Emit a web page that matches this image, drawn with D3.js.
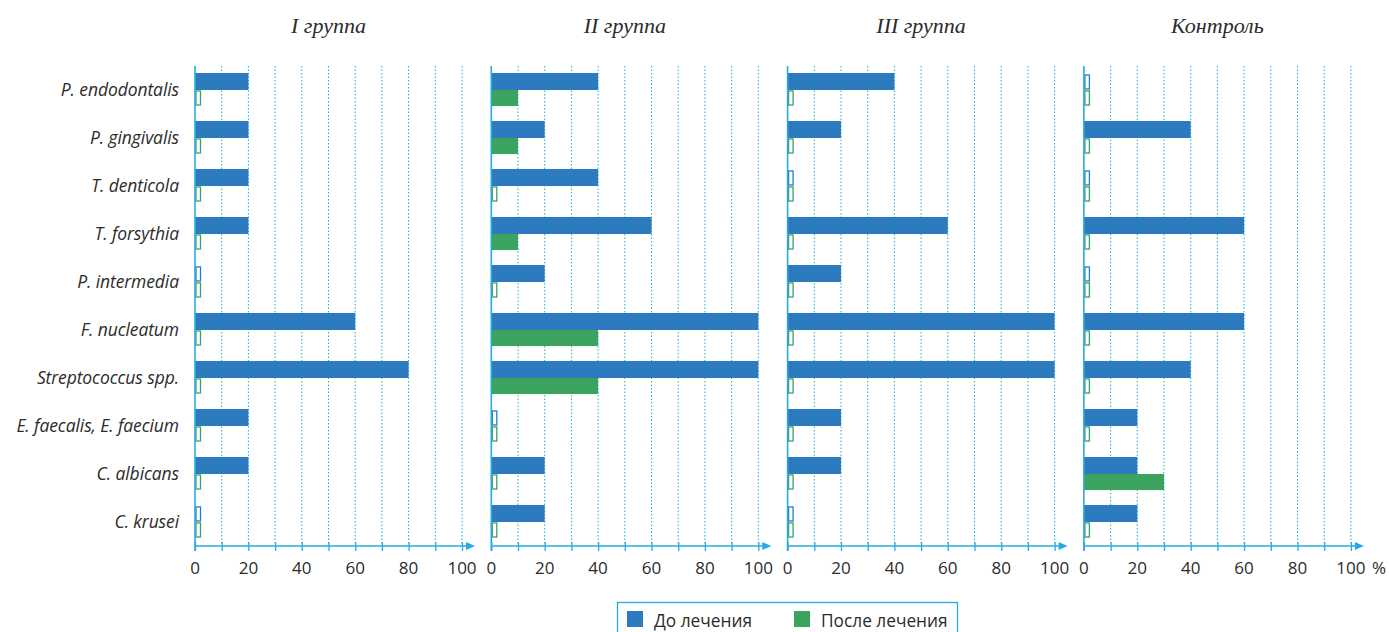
<!DOCTYPE html>
<html>
<head>
<meta charset="utf-8">
<script src="https://cdn.jsdelivr.net/npm/d3@7"></script>
<style>
  body { margin: 0; background: #fff; }
  svg text { fill: #2b2b2b; }
</style>
</head>
<body>
<svg id="chart" width="1389" height="632"></svg>
<script>
// bacteria list, top to bottom
const species = ["P. endodontalis", "P. gingivalis", "T. denticola", "T. forsythia", "P. intermedia",
  "F. nucleatum", "Streptococcus spp.", "E. faecalis, E. faecium", "C. albicans", "C. krusei"];
const groups = ["I группа", "II группа", "III группа", "Контроль"];
const seriesNames = ["До лечения", "После лечения"];
// % of patients, per group
const beforeI = [20, 20, 20, 20, 0, 60, 80, 20, 20, 0];
const afterI = [0, 0, 0, 0, 0, 0, 0, 0, 0, 0];
const beforeII = [40, 20, 40, 60, 20, 100, 100, 0, 20, 20];
const afterII = [10, 10, 0, 10, 0, 40, 40, 0, 0, 0];
const beforeIII = [40, 20, 0, 60, 20, 100, 100, 20, 20, 0];
const afterIII = [0, 0, 0, 0, 0, 0, 0, 0, 0, 0];
const beforeCtrl = [0, 40, 0, 60, 0, 60, 40, 20, 20, 20];
const afterCtrl = [0, 0, 0, 0, 0, 0, 0, 0, 30, 0];
const tickValues = [0, 20, 40, 60, 80, 100];

const beforeAll = [beforeI, beforeII, beforeIII, beforeCtrl];
const afterAll = [afterI, afterII, afterIII, afterCtrl];

const blue = "#2c7bbf", green = "#3ba35e", axisCol = "#27aae1";
const svg = d3.select("#chart");

const plotTop = 66, plotBottom = 546;
const panelStart = 195, panelStep = 296.3, panelW = 267;

const y = d3.scaleBand().domain(species).range([plotTop, plotBottom]);
const rowC = d => y(d) + y.bandwidth() / 2;

// row labels
svg.append("g").selectAll("text")
  .data(species).join("text")
  .attr("x", 179).attr("y", d => rowC(d) + 6)
  .attr("text-anchor", "end")
  .style("font-family", "'Open Sans', sans-serif")
  .style("font-style", "italic")
  .style("font-size", "17.5px")
  .style("letter-spacing", "-0.1px")
  .text(d => d);

groups.forEach((g, gi) => {
  const x0 = panelStart + gi * panelStep;
  const x = d3.scaleLinear().domain([0, 100]).range([x0, x0 + panelW]);
  const p = svg.append("g");

  // title
  p.append("text")
    .attr("x", x(50)).attr("y", 33)
    .attr("text-anchor", "middle")
    .style("font-family", "'Liberation Serif', serif")
    .style("font-style", "italic")
    .style("font-size", "22px")
    .text(g);

  // dotted grid
  p.append("g").selectAll("line")
    .data(d3.range(10, 101, 10)).join("line")
    .attr("x1", d => x(d)).attr("x2", d => x(d))
    .attr("y1", plotTop).attr("y2", plotBottom)
    .attr("stroke", "#1fa9e1").attr("stroke-width", 1)
    .attr("stroke-dasharray", "1.5,2");

  // bars
  const rows = species.map((s, i) => ({ s, b: beforeAll[gi][i], a: afterAll[gi][i] }));
  rows.forEach(r => {
    const c = rowC(r.s);
    if (r.b > 0) {
      p.append("rect").attr("x", x(0)).attr("y", c - 17)
        .attr("width", x(r.b) - x(0)).attr("height", 17).attr("fill", blue);
    } else {
      p.append("rect").attr("x", x(0) + 1).attr("y", c - 15)
        .attr("width", 4.5).attr("height", 14)
        .attr("fill", "#fff").attr("stroke", blue).attr("stroke-width", 1.3);
    }
    if (r.a > 0) {
      p.append("rect").attr("x", x(0)).attr("y", c)
        .attr("width", x(r.a) - x(0)).attr("height", 16).attr("fill", green);
    } else {
      p.append("rect").attr("x", x(0) + 1).attr("y", c + 1)
        .attr("width", 4.5).attr("height", 14)
        .attr("fill", "#fff").attr("stroke", green).attr("stroke-width", 1.3);
    }
  });

  // left axis line
  p.append("line")
    .attr("x1", x(0)).attr("x2", x(0))
    .attr("y1", plotTop).attr("y2", plotBottom + 5)
    .attr("stroke", axisCol).attr("stroke-width", 1.6);

  // bottom axis
  const ax = p.append("g").attr("transform", `translate(0,${plotBottom})`)
    .call(d3.axisBottom(x).tickValues(d3.range(0, 101, 10)).tickSize(5).tickFormat(""));
  ax.select(".domain").remove();
  ax.selectAll(".tick line").attr("stroke", axisCol).attr("stroke-width", 1.3).attr("y1", -4);
  ax.append("line").attr("x1", x(0)).attr("x2", x(100) + 6)
    .attr("stroke", axisCol).attr("stroke-width", 1.4);
  ax.append("path")
    .attr("d", `M${x(100) + 4},-4 L${x(100) + 13},0 L${x(100) + 4},4 Z`)
    .attr("fill", axisCol);

  p.append("g").selectAll("text")
    .data(tickValues).join("text")
    .attr("x", d => x(d)).attr("y", 574)
    .attr("text-anchor", "middle")
    .style("font-family", "'Open Sans', sans-serif")
    .style("font-size", "17px")
    .text(d => d);

  if (gi === groups.length - 1) {
    p.append("text").attr("x", x(100) + 21).attr("y", 574)
      .attr("text-anchor", "start")
      .style("font-family", "'Open Sans', sans-serif")
      .style("font-size", "17px")
      .text("%");
  }
});

// legend
const lg = svg.append("g");
lg.append("rect").attr("x", 617.5).attr("y", 602.5).attr("width", 340).attr("height", 40)
  .attr("fill", "none").attr("stroke", axisCol).attr("stroke-width", 1.3);
const legendX = [627, 794];
seriesNames.forEach((n, i) => {
  lg.append("rect").attr("x", legendX[i]).attr("y", 611).attr("width", 16).attr("height", 16)
    .attr("fill", i === 0 ? blue : green);
  lg.append("text").attr("x", legendX[i] + 27).attr("y", 627)
    .style("font-family", "'Open Sans', sans-serif")
    .style("font-size", "17.3px")
    .text(n);
});
</script>
</body>
</html>
